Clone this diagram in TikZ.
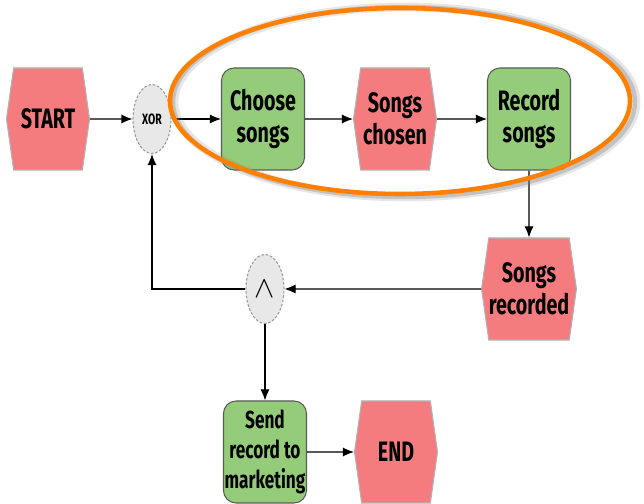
\documentclass[tikz,border=0pt]{standalone}
\usepackage{fontspec}
\setmainfont[FakeStretch=0.7]{Fira Sans}
\usetikzlibrary{positioning,shapes.symbols,shapes.geometric,arrows.meta}

\definecolor{eventpink}{RGB}{244,124,126}
\definecolor{funcgreen}{RGB}{148,204,122}
\definecolor{connfill}{RGB}{232,232,232}
\definecolor{ringorange}{RGB}{255,128,0}

\tikzset{
	ereignis/.style={signal, signal to=east and west, signal pointer angle=164, draw=gray!60, fill=eventpink, minimum width=1.66cm, minimum height=2.04cm, inner sep=0pt, align=center},
	funktion/.style={rectangle, rounded corners=0.25cm, draw=gray!70!black, fill=funcgreen, minimum width=1.66cm, minimum height=2.04cm, inner xsep=0pt, inner ysep=1pt, align=center},
	konnektor/.style={ellipse, draw=gray!80, dash pattern=on 1.5pt off 1pt, fill=connfill, minimum width=0.76cm, minimum height=1.38cm, inner sep=0pt},
	label text/.style={font=\fontsize{16}{18.5}\selectfont\bfseries}
}

\begin{document}
\begin{tikzpicture}[node distance=2cm, auto, >={Latex[length=2.2mm,width=1.8mm]}, every path/.style={line width=0.6pt}]
		\useasboundingbox (0,0) rectangle (12.88,10.08);
		\node (start) at (0.96,7.70) [ereignis, label text] {START};
		\node (xor) [right of=start, konnektor, node distance=2.08cm, font=\fontsize{8.5}{10}\selectfont\bfseries] {XOR};
		\node (choose) [right of=xor, funktion, label text, node distance=2.22cm] {Choose\\songs};
		\node (chosen) [right of=choose, ereignis, label text, node distance=2.64cm] {Songs\\chosen};
		\node (record) [right of=chosen, funktion, label text, node distance=2.68cm] {Record\\songs};
		\node (recorded) [below of=record, ereignis, label text, node distance=3.40cm] {Songs\\recorded};
		\node (and) [left of=recorded, konnektor, node distance=5.28cm, font=\fontsize{18}{20}\selectfont] {$\wedge$};
		\node (send) [below of=and, funktion, node distance=3.26cm, font=\fontsize{14}{17}\selectfont\bfseries] {Send\\record to\\marketing};
		\node (finish) [right of=send, ereignis, label text, node distance=2.62cm] {END};
		
		\draw[->] (start) -- (xor);
		\draw[->] (xor) -- (choose);
		\draw[->] (choose) -- (chosen);
		\draw[->] (chosen) -- (record);
		\draw[->] (record) -- (recorded);
		\draw[->] (recorded) -- (and);
		\draw[->] (and.west) -| (xor.south);
		\draw[->] (and) -- (send);
		\draw[->] (send) -- (finish);
		
		% highlight ring with soft shadow
		\draw[gray, opacity=0.2, line width=5pt] (8.10,8.04) ellipse (4.62 and 1.90);
		\draw[gray, opacity=0.35, line width=2.5pt] (8.08,8.04) ellipse (4.62 and 1.90);
		\draw[ringorange, line width=2.6pt] (8.0,8.06) ellipse (4.6 and 1.86);
	\end{tikzpicture}
\end{document}
